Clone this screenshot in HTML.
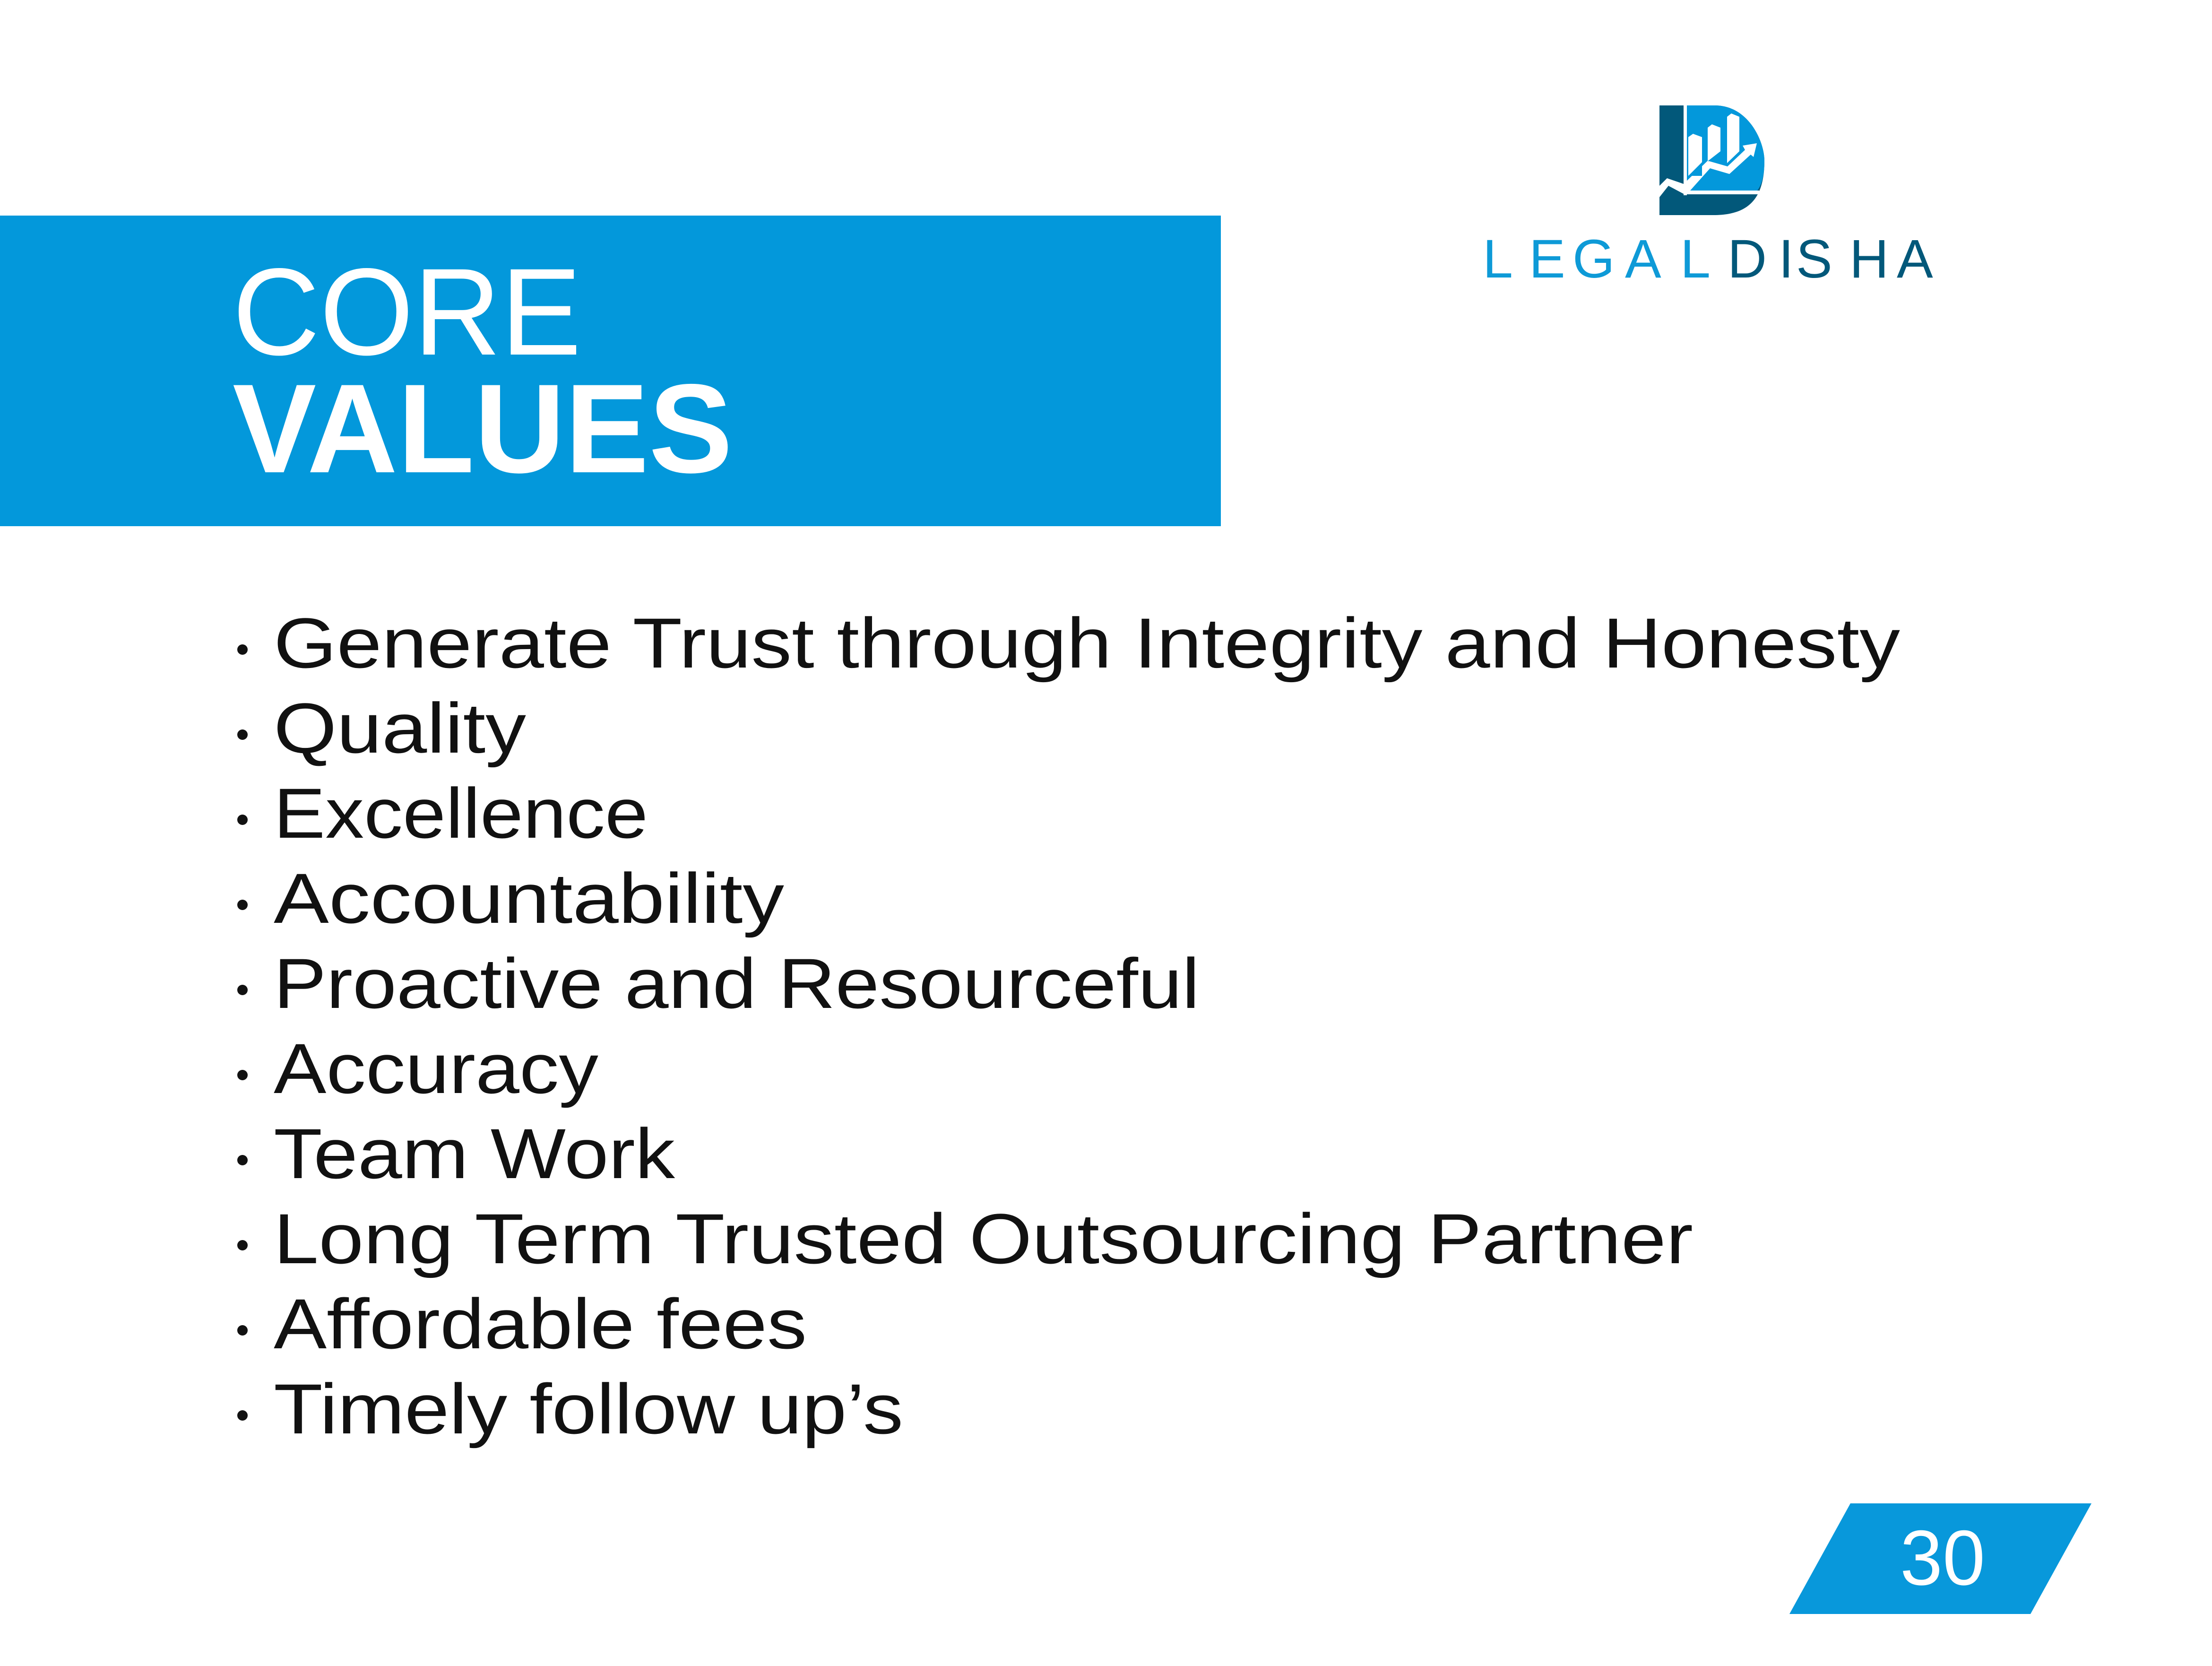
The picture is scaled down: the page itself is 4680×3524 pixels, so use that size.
<!DOCTYPE html>
<html><head><meta charset="utf-8"><style>
html,body{margin:0;padding:0;background:#fff;width:4680px;height:3524px;overflow:hidden}
svg text{font-family:"Liberation Sans",sans-serif}
</style></head><body>
<svg width="4680" height="3524" viewBox="0 0 4680 3524" xmlns="http://www.w3.org/2000/svg">
<rect x="0" y="0" width="4680" height="3524" fill="#fff"/>
<g>
<rect x="0" y="456" width="2583" height="657" fill="#0398db"/>
<text x="492" y="750" font-size="262" fill="#fff" textLength="738" lengthAdjust="spacingAndGlyphs">CORE</text>
<text x="492" y="999" font-size="268" font-weight="bold" fill="#fff" textLength="1058" lengthAdjust="spacingAndGlyphs">VALUES</text>
</g>
<g>
<path d="M3511,223 H3628 C3700,223 3733,300 3733,340 C3733,420 3700,455 3625,455 H3511 Z" fill="#02587a"/>
<path d="M3569,223 H3628 C3700,223 3733,300 3733,340 C3733,370 3728,390 3718,403 H3569 Z" fill="#0398db"/>
<rect x="3562" y="223" width="7" height="190" fill="#fff"/>
<rect x="3562" y="403" width="160" height="8" fill="#fff"/>
<path d="M3572,290 L3582,283 L3601,290 L3601,372 L3572,372 Z" fill="#fff"/>
<path d="M3613,270 L3622,263 L3640,270 L3640,341 L3613,341 Z" fill="#fff"/>
<path d="M3654,247 L3663,240 L3680,247 L3680,345 L3654,345 Z" fill="#0398db"/>
<path d="M3654,247 L3663,240 L3680,247 L3680,320 L3654,345 Z" fill="#fff"/>
<path d="M3511,393 L3527,377 L3562,389 L3613,340 L3655,352 L3692,317 L3687,308 L3717,303 L3710,332 L3704,327 L3659,368 L3618,356 L3576,403 L3562,403 L3562,410 L3530,393 L3511,417 Z" fill="#fff"/>
<path d="M3572,372 L3601,343 L3601,372 Z M3613,341 L3640,320 L3640,341 Z" fill="#0398db"/>
<text y="587" font-size="115" fill="#0e9ad7"><tspan x="3137">L</tspan><tspan x="3235">E</tspan><tspan x="3327">G</tspan><tspan x="3438">A</tspan><tspan x="3555">L</tspan></text>
<text y="587" font-size="115" fill="#02587a"><tspan x="3655">D</tspan><tspan x="3763">I</tspan><tspan x="3800">S</tspan><tspan x="3913">H</tspan><tspan x="4013">A</tspan></text>
</g>
<g font-size="150" fill="#111">
<circle cx="513" cy="1374" r="11" fill="#111"/><text x="579" y="1412" textLength="3441" lengthAdjust="spacingAndGlyphs">Generate Trust through Integrity and Honesty</text>
<circle cx="513" cy="1554" r="11" fill="#111"/><text x="579" y="1592" textLength="534" lengthAdjust="spacingAndGlyphs">Quality</text>
<circle cx="513" cy="1734" r="11" fill="#111"/><text x="579" y="1772" textLength="792" lengthAdjust="spacingAndGlyphs">Excellence</text>
<circle cx="513" cy="1914" r="11" fill="#111"/><text x="579" y="1952" textLength="1080" lengthAdjust="spacingAndGlyphs">Accountability</text>
<circle cx="513" cy="2094" r="11" fill="#111"/><text x="579" y="2132" textLength="1959" lengthAdjust="spacingAndGlyphs">Proactive and Resourceful</text>
<circle cx="513" cy="2274" r="11" fill="#111"/><text x="579" y="2312" textLength="687" lengthAdjust="spacingAndGlyphs">Accuracy</text>
<circle cx="513" cy="2454" r="11" fill="#111"/><text x="579" y="2492" textLength="849" lengthAdjust="spacingAndGlyphs">Team Work</text>
<circle cx="513" cy="2634" r="11" fill="#111"/><text x="579" y="2672" textLength="3003" lengthAdjust="spacingAndGlyphs">Long Term Trusted Outsourcing Partner</text>
<circle cx="513" cy="2814" r="11" fill="#111"/><text x="579" y="2852" textLength="1128" lengthAdjust="spacingAndGlyphs">Affordable fees</text>
<circle cx="513" cy="2994" r="11" fill="#111"/><text x="579" y="3032" textLength="1332" lengthAdjust="spacingAndGlyphs">Timely follow up’s</text>
</g>
<g>
<polygon points="3915,3180 4425,3180 4296,3414 3786,3414" fill="#0898db"/>
<text x="4020" y="3352" font-size="165" fill="#fff" textLength="180" lengthAdjust="spacingAndGlyphs">30</text>
</g>
</svg>
</body></html>
